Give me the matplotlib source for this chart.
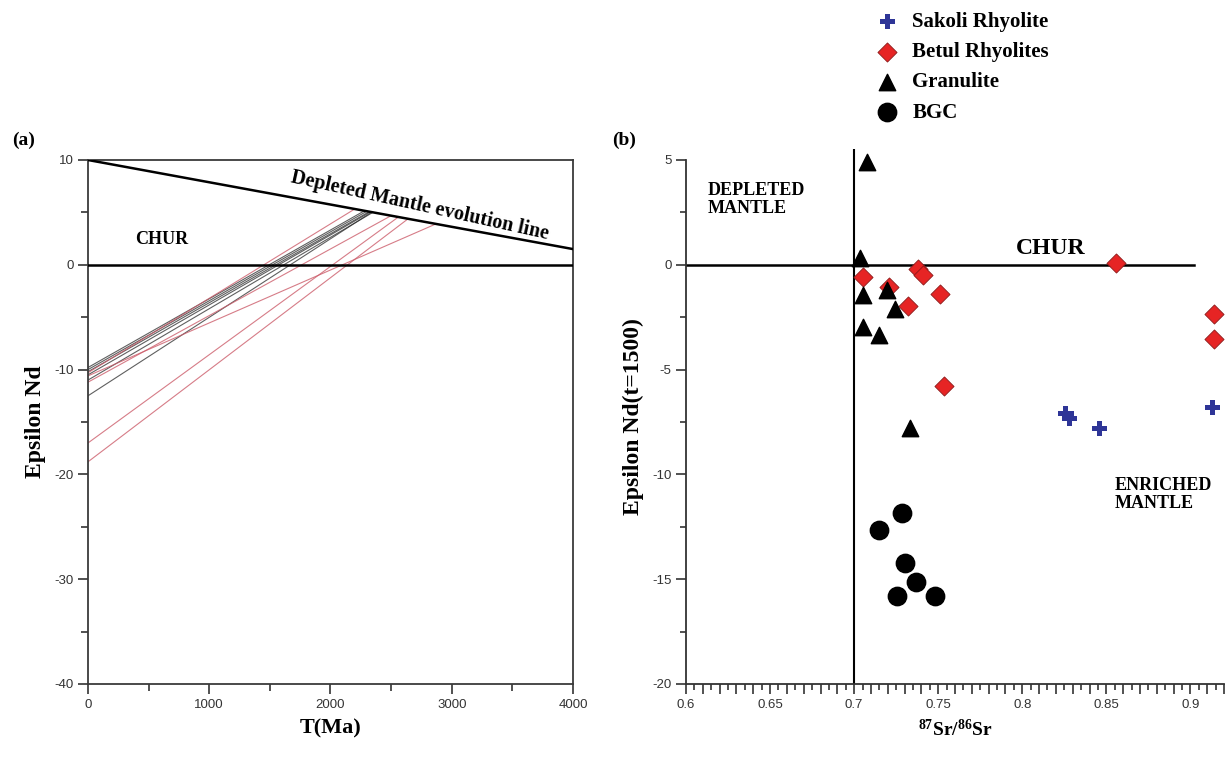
import numpy as np
import matplotlib
matplotlib.use("Agg")
import matplotlib.pyplot as plt
from matplotlib.ticker import MultipleLocator, FuncFormatter

plt.rcParams['font.family'] = ['Liberation Serif', 'DejaVu Serif']
plt.rcParams['mathtext.default'] = 'regular'
plt.rcParams['axes.unicode_minus'] = False

# ---- panel (a): Nd evolution lines ----
dm_t = [0, 4000]
dm_e = [10, 1.5]
chur_t = [0, 4000]
black_e0 = [-9.8, -10.0, -10.2, -10.5, -11.0, -12.5]
black_tdm = [2280, 2300, 2320, 2330, 2350, 2340]
red_e0 = [-10.3, -10.6, -11.2, -17.0, -18.8]
red_tdm = [2200, 2870, 2500, 2560, 2640]

# ---- panel (b): eNd(t=1500) vs 87Sr/86Sr ----
sakoli_sr = [0.826, 0.828, 0.846, 0.913]
sakoli_nd = [-7.1, -7.35, -7.8, -6.8]
betul_sr = [0.7055, 0.721, 0.7323, 0.738, 0.741, 0.7508, 0.7532, 0.856, 0.914, 0.914]
betul_nd = [-0.57, -1.05, -1.97, -0.2, -0.48, -1.39, -5.8, 0.1, -2.35, -3.55]
gran_sr = [0.7076, 0.7036, 0.7055, 0.7195, 0.7244, 0.7052, 0.715, 0.7333]
gran_nd = [4.9, 0.3, -1.44, -1.2, -2.1, -2.95, -3.35, -7.8]
bgc_sr = [0.7284, 0.7145, 0.7304, 0.7369, 0.7254, 0.7482]
bgc_nd = [-11.86, -12.65, -14.24, -15.12, -15.79, -15.8]

fig = plt.figure(figsize=(12.25, 7.62), dpi=100)
ax1 = fig.add_axes([88 / 1225, 78 / 762, 485 / 1225, 524 / 762])
ax2 = fig.add_axes([686 / 1225, 78 / 762, 538 / 1225, 534.5 / 762])

# panel (a)
ax1.plot(dm_t, dm_e, color='black', lw=1.8, zorder=3)
ax1.plot(chur_t, [0, 0], color='black', lw=1.8, zorder=3)
for e0, t in zip(black_e0, black_tdm):
    ax1.plot([0, t], [e0, np.interp(t, dm_t, dm_e)], color='#2a2a2a', lw=0.8, alpha=0.75)
for e0, t in zip(red_e0, red_tdm):
    ax1.plot([0, t], [e0, np.interp(t, dm_t, dm_e)], color='#cc5c6a', lw=0.8, alpha=0.8)

ax1.set_xlim(0, 4000)
ax1.set_ylim(-40, 10)
ax1.xaxis.set_major_locator(MultipleLocator(1000))
ax1.xaxis.set_minor_locator(MultipleLocator(500))
ax1.yaxis.set_major_locator(MultipleLocator(10))
ax1.yaxis.set_minor_locator(MultipleLocator(5))
ax1.tick_params(which='major', direction='out', length=7, width=1.2, color='#333333', labelcolor='#333333')
ax1.tick_params(which='minor', direction='out', length=5, width=1.2, color='#333333')
for lab in ax1.get_xticklabels() + ax1.get_yticklabels():
    lab.set_fontfamily('Liberation Sans')
    lab.set_fontsize(9.5)
for s in ax1.spines.values():
    s.set_linewidth(1.3)
    s.set_color('#3a3a3a')
ax1.set_xlabel('T(Ma)', fontsize=16, fontweight='bold', labelpad=6)
ax1.set_ylabel('Epsilon Nd', fontsize=17, fontweight='bold', labelpad=6)
ax1.text(390, 2.4, 'CHUR', fontsize=13, fontweight='bold', va='center')
ax1.text(2740, 5.6, 'Depleted Mantle evolution line', fontsize=14.5, fontweight='bold',
         rotation=-12.5, ha='center', va='center', rotation_mode='anchor')
fig.text(12 / 1225, 1 - 140 / 762, '(a)', fontsize=14, fontweight='bold', va='center')

# panel (b)
ax2.plot([0.6, 0.902], [0, 0], color='black', lw=1.8, zorder=2)
ax2.plot([0.7, 0.7], [-20, 5.5], color='black', lw=1.5, zorder=2)
ax2.scatter(sakoli_sr, sakoli_nd, marker='P', s=120, color='#2e3597', edgecolors='none',
            label='Sakoli Rhyolite', zorder=4)
ax2.scatter(betul_sr, betul_nd, marker='D', s=95, color='#e62424', edgecolors='#8a1a1a',
            linewidths=0.6, label='Betul Rhyolites', zorder=4)
ax2.scatter(gran_sr, gran_nd, marker='^', s=140, color='black', label='Granulite', zorder=5)
ax2.scatter(bgc_sr, bgc_nd, marker='o', s=175, color='black', label='BGC', zorder=5)

ax2.set_xlim(0.6, 0.92)
ax2.set_ylim(-20, 5.5)
ax2.spines['top'].set_visible(False)
ax2.spines['right'].set_visible(False)
ax2.spines['left'].set_bounds(-20, 5)
for s in ax2.spines.values():
    s.set_linewidth(1.3)
    s.set_color('#333333')
ax2.xaxis.set_major_locator(MultipleLocator(0.01))
ax2.xaxis.set_minor_locator(MultipleLocator(0.005))
ax2.xaxis.set_major_formatter(FuncFormatter(
    lambda v, p: ('%g' % round(v, 2)) if abs(v * 20 - round(v * 20)) < 1e-6 else ''))
ax2.yaxis.set_major_locator(MultipleLocator(5))
ax2.yaxis.set_minor_locator(MultipleLocator(2.5))
ax2.tick_params(which='major', direction='out', length=7, width=1.2, color='#333333', labelcolor='#333333')
ax2.tick_params(which='minor', direction='out', length=4, width=1.2, color='#333333')
for lab in ax2.get_xticklabels() + ax2.get_yticklabels():
    lab.set_fontfamily('Liberation Sans')
    lab.set_fontsize(9.5)
ax2.set_xlabel('$^{87}$Sr/$^{86}$Sr', fontsize=14, fontweight='bold', labelpad=6)
ax2.set_ylabel('Epsilon Nd(t=1500)', fontsize=17, fontweight='bold', labelpad=6)
ax2.text(0.613, 3.1, 'DEPLETED\nMANTLE', fontsize=13, fontweight='bold', va='center',
         linespacing=1.1)
ax2.text(0.817, 0.8, 'CHUR', fontsize=17, fontweight='bold', ha='center', va='center')
ax2.text(0.855, -10.97, 'ENRICHED\nMANTLE', fontsize=13, fontweight='bold', va='center',
         linespacing=1.1)
fig.text(612 / 1225, 1 - 140 / 762, '(b)', fontsize=14, fontweight='bold', va='center')

fig.legend(loc='upper left', bbox_to_anchor=(852 / 1225, 1 + 3 / 762), frameon=False,
           prop=dict(family='Liberation Serif', weight='bold', size=15),
           labelspacing=0.5, handletextpad=0.2, markerscale=1.0, borderpad=0.2)

fig.savefig('out.png', dpi=100)
